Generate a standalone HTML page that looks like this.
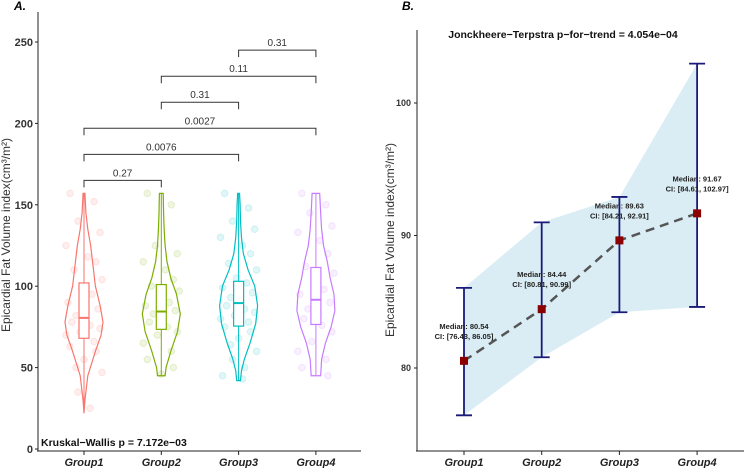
<!DOCTYPE html>
<html><head><meta charset="utf-8">
<style>
body{margin:0;background:#fff;}
svg{display:block;font-family:"Liberation Sans",sans-serif;}
</style></head>
<body>
<svg id="c" width="744" height="468" viewBox="0 0 744 468"></svg>
<script>
// ---------- Panel A data ----------
const groupsA = ["Group1","Group2","Group3","Group4"];
const colorsA = ["#F8766D","#7CAE00","#00BFC4","#C77CFF"];
const ticksA = [0,50,100,150,200,250];
// violin profiles: [value, half-width fraction]
const violin1 = [[22,0],[30,0.05],[45,0.2],[60,0.6],[70,0.9],[78,1],[88,0.85],[100,0.6],[115,0.45],[125,0.35],[135,0.2],[145,0.1],[157,0.05]];
const violin2 = [[45,0.2],[50,0.25],[60,0.5],[72,0.85],[83,1],[95,0.8],[105,0.5],[115,0.3],[125,0.2],[135,0.15],[145,0.12],[157,0.1]];
const violin3 = [[42,0.1],[48,0.15],[55,0.3],[65,0.6],[77,0.9],[88,1],[100,0.85],[110,0.5],[120,0.25],[130,0.15],[140,0.1],[150,0.08],[157,0.05]];
const violin4 = [[45,0.25],[55,0.3],[65,0.5],[75,0.8],[85,1],[95,0.95],[105,0.75],[115,0.6],[125,0.4],[135,0.3],[145,0.25],[157,0.2]];
const boxQ1 = [68,73.5,75.5,76.5];
const boxMed = [80.54,84.44,89.63,91.67];
const boxQ3 = [102,101,103,111.5];
const violinMin = [22,45,42,45];
const violinMax = [157,157,157,157];
const compLabels = ["0.27","0.0076","0.0027","0.31","0.11","0.31"];
const compFrom = [0,0,0,1,1,2];
const compTo = [1,2,3,2,3,3];
const compY = [165,181,197,213,229,245];
const pts1 = [157,152,140,133,125,118,115,110,104,98,95,90,86,82,80,78,76,74,72,70,66,63,60,55,50,47,35,25];
const pts2 = [157,150,125,120,115,110,104,100,97,92,90,88,85,83,80,78,75,72,70,65,60,55,50,46];
const pts3 = [157,148,140,135,130,125,120,114,110,105,102,99,96,93,90,88,86,84,82,80,78,75,72,68,64,60,55,50,45,43];
const pts4 = [157,150,145,137,133,128,120,112,108,102,98,95,90,86,84,80,76,72,66,60,55,50,45];
const jit = [-14,10,-6,16,-18,4,12,-10,18,-2,8,-16,14,-8,2,-12,6,16,-4,-18,10,-14,12,0,-8,18,-6,6,-16,4];

// ---------- Panel B data ----------
const groupsB = ["Group1","Group2","Group3","Group4"];
const medB = [80.54,84.44,89.63,91.67];
const loB = [76.43,80.81,84.21,84.61];
const hiB = [86.05,90.99,92.91,102.97];
const ticksB = [80,90,100];

const svg = document.getElementById('c');
const NS = "http://www.w3.org/2000/svg";
function mk(tag, attrs, parent){const e=document.createElementNS(NS,tag);for(const k in attrs)e.setAttribute(k,attrs[k]);(parent||svg).appendChild(e);return e;}
function txt(s,attrs,parent){const e=mk('text',attrs,parent);e.textContent=s;return e;}

// ---- Panel A scales
const xA = i => 84 + i*77.3;
const yA = v => 449 - v*1.628;
const gA = mk('g',{});


let t = txt("A.",{x:14,y:10,'font-size':12,'font-weight':'bold','font-style':'italic'},gA);

mk('line',{x1:38,y1:12,x2:38,y2:451,stroke:'#222','stroke-width':1},gA);
mk('line',{x1:37,y1:451,x2:361,y2:451,stroke:'#222','stroke-width':1},gA);
ticksA.forEach(v=>{
  mk('line',{x1:35,y1:yA(v),x2:38,y2:yA(v),stroke:'#222'},gA);
  const e=txt(String(v),{x:33,y:yA(v)+4,'font-size':11,'font-weight':'bold','text-anchor':'end',fill:'#333'},gA);
  
});
t=txt("Epicardial Fat Volume index(cm³/m²)",{transform:'translate(10,235) rotate(-90)','font-size':12,'text-anchor':'middle',fill:'#333'},gA);

const violins=[violin1,violin2,violin3,violin4];
const ptsAll=[pts1,pts2,pts3,pts4];
groupsA.forEach((g,i)=>{
  const cx=xA(i), col=colorsA[i];
  mk('line',{x1:cx,y1:451,x2:cx,y2:455,stroke:'#222'},gA);
  const e=txt(g,{x:cx,y:466,'font-size':11,'font-weight':'bold','font-style':'italic','text-anchor':'middle',fill:'#222'},gA);
  
  ptsAll[i].forEach((v,k)=>{
    const c=mk('circle',{cx:cx+jit[k%jit.length],cy:yA(v),r:3.3,fill:col,'fill-opacity':0.12,stroke:col,'stroke-opacity':0.15},gA);
    
  });
  const prof=violins[i], W=19;
  let d='M'+prof.map(p=>(cx+p[1]*W)+','+yA(p[0])).join(' L');
  d+=' L'+prof.slice().reverse().map(p=>(cx-p[1]*W)+','+yA(p[0])).join(' L')+'Z';
  const vp=mk('path',{d:d,fill:'none',stroke:col,'stroke-width':1.2},gA);
  
  mk('line',{x1:cx,y1:yA(violinMin[i]),x2:cx,y2:yA(violinMax[i]),stroke:col,'stroke-width':1},gA);
  const b=mk('rect',{x:cx-5,y:yA(boxQ3[i]),width:10,height:yA(boxQ1[i])-yA(boxQ3[i]),fill:'#fff',stroke:col,'stroke-width':1.2},gA);
  
  mk('line',{x1:cx-5,y1:yA(boxMed[i]),x2:cx+5,y2:yA(boxMed[i]),stroke:col,'stroke-width':2},gA);
});
compLabels.forEach((lab,k)=>{
  const x1=xA(compFrom[k]),x2=xA(compTo[k]),y=yA(compY[k]);
  const p=mk('path',{d:`M${x1},${y+7} L${x1},${y} L${x2},${y} L${x2},${y+7}`,fill:'none',stroke:'#333','stroke-width':1},gA);
  
  const e=txt(lab,{x:(x1+x2)/2,y:y-4,'font-size':10,'text-anchor':'middle',fill:'#333'},gA);
  
});
t=txt("Kruskal−Wallis p = 7.172e−03",{x:41,y:446,'font-size':10.5,'font-weight':'bold',fill:'#111'},gA);


// ---- Panel B scales
const xB = i => 464 + i*77.7;
const yB = v => 368 - (v-80)*13.25;
const gB = mk('g',{});


t=txt("B.",{x:402,y:10,'font-size':12,'font-weight':'bold','font-style':'italic'},gB);

t=txt("Jonckheere−Terpstra p−for−trend = 4.054e−04",{x:563,y:38,'font-size':10.5,'font-weight':'bold','text-anchor':'middle',fill:'#111'},gB);

mk('line',{x1:417,y1:30,x2:417,y2:451,stroke:'#222'},gB);
mk('line',{x1:416,y1:451,x2:744,y2:451,stroke:'#222'},gB);
ticksB.forEach(v=>{
  mk('line',{x1:414,y1:yB(v),x2:417,y2:yB(v),stroke:'#222'},gB);
  const e=txt(String(v),{x:411,y:yB(v)+3,'font-size':9,'font-weight':'bold','text-anchor':'end',fill:'#333'},gB);
  
});
t=txt("Epicardial Fat Volume index(cm³/m²)",{transform:'translate(394,240) rotate(-90)','font-size':12,'text-anchor':'middle',fill:'#333'},gB);

let rd='M'+hiB.map((v,i)=>xB(i)+','+yB(v)).join(' L')+' L'+loB.map((v,i)=>[xB(i),yB(v)]).reverse().map(p=>p.join(',')).join(' L')+'Z';
const rib=mk('path',{d:rd,fill:'#ADD8E6','fill-opacity':0.45,stroke:'none'},gB);

const tl=mk('polyline',{points:medB.map((v,i)=>xB(i)+','+yB(v)).join(' '),fill:'none',stroke:'#555','stroke-width':2.5,'stroke-dasharray':'9,6'},gB);

groupsB.forEach((g,i)=>{
  const cx=xB(i);
  mk('line',{x1:cx,y1:451,x2:cx,y2:455,stroke:'#222'},gB);
  let e=txt(g,{x:cx,y:466,'font-size':11,'font-weight':'bold','font-style':'italic','text-anchor':'middle',fill:'#222'},gB);
  
  const eb=mk('path',{d:`M${cx-8},${yB(hiB[i])} L${cx+8},${yB(hiB[i])} M${cx},${yB(hiB[i])} L${cx},${yB(loB[i])} M${cx-8},${yB(loB[i])} L${cx+8},${yB(loB[i])}`,stroke:'#1a1a7a','stroke-width':1.8,fill:'none'},gB);
  
  const m=mk('rect',{x:cx-4,y:yB(medB[i])-4,width:8,height:8,fill:'#8B0000'},gB);
  
  const ly=yB(medB[i])-22;
  e=txt("Median: "+medB[i].toFixed(2),{x:cx,y:ly-10,'font-size':7.5,'font-weight':'bold','text-anchor':'middle',fill:'#222'},gB);
  
  e=txt("CI: ["+loB[i].toFixed(2)+", "+hiB[i].toFixed(2)+"]",{x:cx,y:ly,'font-size':7.5,'font-weight':'bold','text-anchor':'middle',fill:'#222'},gB);
  
});
</script>
</body></html>
